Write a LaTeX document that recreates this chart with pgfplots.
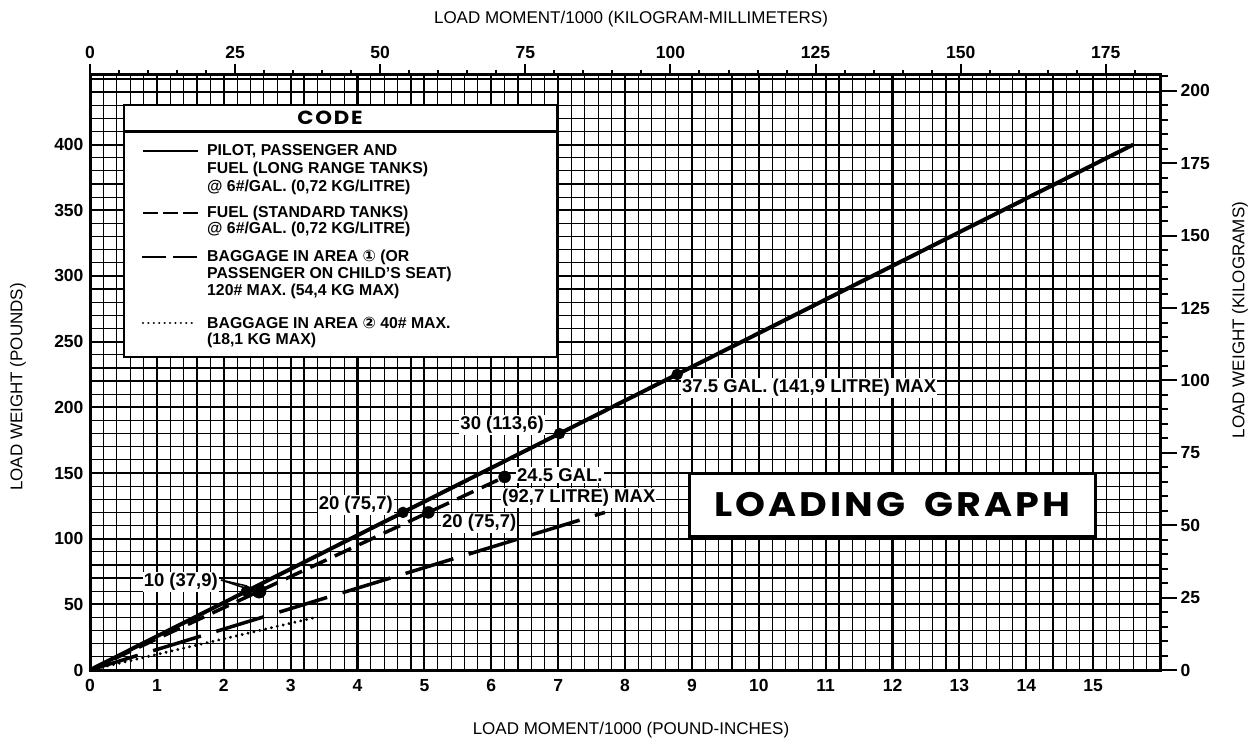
\documentclass[border=0pt]{standalone}
\usepackage{fontspec}
\setmainfont{Liberation Sans}
\newfontfamily\dejavu{DejaVu Sans}
\newfontfamily\geo[LetterSpace=8]{Poppins}
\usepackage{pgfplots}
\usepackage{pgfplotstable}
\pgfplotsset{compat=1.18}

% Load moment/1000 (lb-in) vs load weight (lb)
\pgfplotstableread{
x y
0 0
15.6 400
}\solidline
\pgfplotstableread{
x y
0 0
6.2 147
}\fuelstd
\pgfplotstableread{
x y
0 0
7.7 120
}\bagone
\pgfplotstableread{
x y
0 0
3.37 40
}\bagtwo
\pgfplotstableread{
x y
2.34 60
4.68 120
7.02 180
8.78 225
}\solidpts
\pgfplotstableread{
x y
5.06 120
6.2 147
}\fuelpts
\pgfplotstableread{
x y
2.53 60
}\fuelten

\newcommand{\tkf}{\bfseries\fontsize{17.5}{17.5}\selectfont}
\newcommand{\anf}{\bfseries\fontsize{18.5}{18.5}\selectfont}
\newcommand{\lgdf}{\bfseries\fontsize{15.8}{15.8}\selectfont}

\begin{document}
\begin{tikzpicture}
\useasboundingbox (0,0) rectangle (1257pt,747pt);
\begin{axis}[
  at={(90pt,77pt)}, anchor=south west, scale only axis,
  width=1070pt, height=595pt,
  xmin=0, xmax=16, ymin=0, ymax=453,
  xtick={0,1,...,16}, ytick={0,50,...,450},
  xticklabels={0,1,2,3,4,5,6,7,8,9,10,11,12,13,14,15,{}},
  yticklabels={0,50,100,150,200,250,300,350,400,{}},
  minor x tick num=4, minor y tick num=4,
  grid=both,
  major grid style={line width=2.2pt, black},
  minor grid style={line width=1.2pt, black},
  major tick length=0pt, minor tick length=0pt,
  axis line style={line width=3pt},
  /pgf/number format/assume math mode=true,
  ticklabel style={font=\tkf},
  xticklabel style={yshift=-6pt},
  yticklabel style={xshift=-3pt},
]
\addplot[line width=4pt] table {\solidline};
\addplot[line width=3.5pt, dash pattern=on 18pt off 9pt] table {\fuelstd};
\addplot[line width=3.5pt, dash pattern=on 50pt off 16pt] table {\bagone};
\addplot[line width=3.2pt, dash pattern=on 0.01pt off 6pt, line cap=round] table {\bagtwo};
\addplot[only marks, mark=*, mark size=5.5pt] table {\solidpts};
\addplot[only marks, mark=*, mark size=6pt] table {\fuelpts};
\addplot[only marks, mark=*, mark size=7pt] table {\fuelten};
\end{axis}
% top axis: kilogram-millimeters
\begin{axis}[
  at={(90pt,77pt)}, anchor=south west, scale only axis,
  width=1070pt, height=595pt,
  xmin=0, xmax=184.34, ymin=0, ymax=1,
  axis line style={draw=none},
  xtick={0,25,...,200}, minor x tick num=4, ytick=\empty,
  xtick pos=right, xticklabel pos=right,
  tick align=outside, major tick length=11pt, minor tick length=5pt,
  every tick/.style={line width=2pt, black},
  /pgf/number format/assume math mode=true,
  ticklabel style={font=\tkf},
  xticklabel style={yshift=2pt},
]
\addplot[draw=none] coordinates {(0,0)};
\end{axis}
% right axis: kilograms
\begin{axis}[
  at={(90pt,77pt)}, anchor=south west, scale only axis,
  width=1070pt, height=595pt,
  xmin=0, xmax=1, ymin=0, ymax=205.48,
  axis line style={draw=none},
  ytick={0,25,...,225}, minor y tick num=4, xtick=\empty,
  ytick pos=right, yticklabel pos=right,
  tick align=outside, major tick length=17pt, minor tick length=8pt,
  every tick/.style={line width=2pt, black},
  /pgf/number format/assume math mode=true,
  ticklabel style={font=\tkf},
]
\addplot[draw=none] coordinates {(0,0)};
\end{axis}

\begin{scope}[shift={(0pt,747pt)}, x=1pt, y=-1pt]
% axis titles
\node[font=\fontsize{17}{17}\selectfont] at (631,19) {LOAD MOMENT/1000 (KILOGRAM-MILLIMETERS)};
\node[font=\fontsize{17}{17}\selectfont] at (631,730) {LOAD MOMENT/1000 (POUND-INCHES)};
\node[font=\fontsize{17}{17}\selectfont, rotate=90] at (18,387) {LOAD WEIGHT (POUNDS)};
\node[font=\fontsize{17}{17}\selectfont, rotate=90] at (1240,320) {LOAD WEIGHT (KILOGRAMS)};
% legend
\draw[line width=2.5pt, fill=white] (124,105) rectangle (557,357);
\draw[line width=3pt] (124,132) -- (557,132);
\node[font=\geo\bfseries\fontsize{19}{19}\selectfont] at (330,118) {\scalebox{1.12}[1]{CODE}};
\draw[line width=2.5pt] (143,151) -- (198,151);
\draw[line width=2.5pt, dash pattern=on 15pt off 5pt] (143,213) -- (198,213);
\draw[line width=2.5pt, dash pattern=on 24pt off 7pt] (142,257) -- (197,257);
\draw[line width=2.5pt, dash pattern=on 0.01pt off 5.4pt, line cap=round] (143,323) -- (197,323);
\foreach \yy/\txt in {151/{PILOT, PASSENGER AND}, 169/{FUEL (LONG RANGE TANKS)}, 187/{@ 6\#/GAL. (0,72 KG/LITRE)},
  213/{FUEL (STANDARD TANKS)}, 229/{@ 6\#/GAL. (0,72 KG/LITRE)},
  257/{BAGGAGE IN AREA {\dejavu ①} (OR}, 274/{PASSENGER ON CHILD'S SEAT)}, 291/{120\# MAX. (54,4 KG MAX)},
  323/{BAGGAGE IN AREA {\dejavu ②} 40\# MAX.}, 340/{(18,1 KG MAX)}}
  \node[anchor=west, font=\lgdf, inner sep=0pt] at (207,\yy) {\txt};
% annotations
\node[anchor=east, font=\anf, fill=white, inner sep=1pt] at (219,582) {10 (37,9)};
\draw[line width=1.5pt] (221,580) -- (247,586);
\draw[line width=1.5pt] (221,580) -- (257,592);
\node[anchor=east, font=\anf, fill=white, inner sep=1pt] at (394,505) {20 (75,7)};
\node[anchor=west, font=\anf, fill=white, inner sep=1pt] at (441,523) {20 (75,7)};
\node[anchor=west, font=\anf, fill=white, inner sep=1pt] at (516,475) {24.5 GAL.};
\node[anchor=west, font=\anf, fill=white, inner sep=1pt] at (501,498) {(92,7 LITRE) MAX};
\node[anchor=east, font=\anf, fill=white, inner sep=1pt] at (545,425) {30 (113,6)};
\node[anchor=west, font=\anf, fill=white, inner sep=1pt] at (681,388) {37.5 GAL. (141,9 LITRE) MAX};
% title box
\node[draw, line width=3pt, fill=white, minimum width=406pt, minimum height=63pt, inner sep=0pt,
  font=\geo\bfseries\fontsize{34}{34}\selectfont] at (892.5,505) {\scalebox{1.12}[1]{LOADING\hspace{17pt}GRAPH}};
\end{scope}
\end{tikzpicture}
\end{document}
